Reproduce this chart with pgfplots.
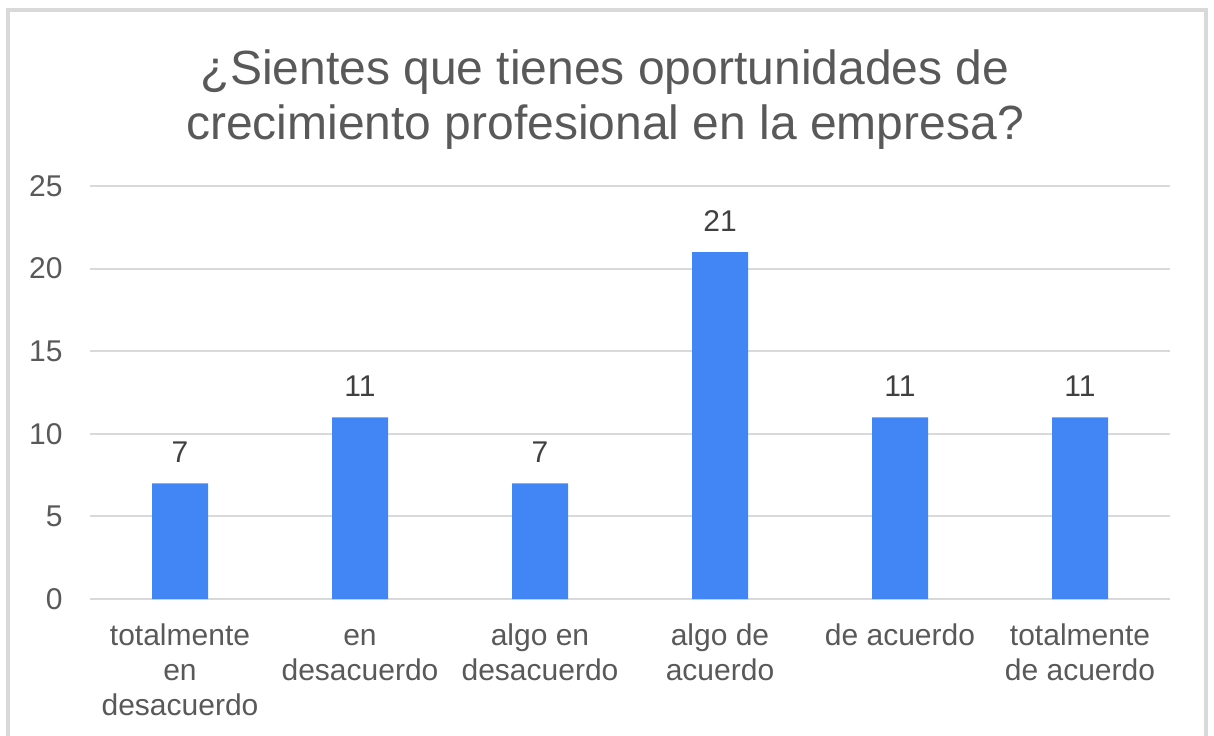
\documentclass[border=0pt]{standalone}
\usepackage{pgfplots}
\pgfplotsset{compat=1.18}
\usepackage{fontspec}
\setmainfont{Liberation Sans}
\definecolor{barblue}{HTML}{4285F4}
\definecolor{txtgray}{HTML}{595959}
\definecolor{lblgray}{HTML}{404040}
\definecolor{gridgray}{HTML}{D9D9D9}
\begin{document}
\begin{tikzpicture}
% 1 px of the reference = 0.5pt; axis box from px (90,599) to (1170,186)
\useasboundingbox (-45pt,-68pt) rectangle (562pt,299.5pt);
\draw[gridgray, line width=1.6pt] (-41pt,-70pt) -- (-41pt,294.5pt) -- (558pt,294.5pt) -- (558pt,-70pt);
\begin{axis}[
    at={(0,0)}, anchor=south west,
    scale only axis, width=540pt, height=206.5pt,
    xmin=-0.5, xmax=5.5, ymin=0, ymax=25,
    ytick={0,5,...,25},
    xtick={0,1,2,3,4,5},
    xticklabels={\strut totalmente\\en\\desacuerdo, \strut en\\desacuerdo, \strut algo en\\desacuerdo,
                 \strut algo de\\acuerdo, \strut de acuerdo, \strut totalmente\\de acuerdo},
    axis line style={draw=none},
    major tick length=0pt,
    ymajorgrids, grid style={gridgray, line width=1pt},
    /pgf/number format/assume math mode=true,
    yticklabel style={font=\fontsize{15}{18}\selectfont, text=txtgray,
                      anchor=east, inner sep=0pt, xshift=-13.5pt},
    xticklabel style={font=\fontsize{15}{17.5}\selectfont, text=txtgray,
                      anchor=north, inner sep=0pt, yshift=-10.75pt, align=center},
    ybar, bar width=28pt,
    nodes near coords,
    nodes near coords style={font=\fontsize{15}{18}\selectfont, text=lblgray,
                             anchor=south, inner sep=0pt, yshift=10pt},
]
\addplot[fill=barblue, draw=none] coordinates {
    (0,7) (1,11) (2,7) (3,21) (4,11) (5,11)
};
\end{axis}
\node[anchor=base, text=txtgray, font=\fontsize{24}{28}\selectfont, inner sep=0pt]
    at (257.5pt,257pt) {¿Sientes que tienes oportunidades de};
\node[anchor=base, text=txtgray, font=\fontsize{24}{28}\selectfont, inner sep=0pt]
    at (257.5pt,229.5pt) {crecimiento profesional en la empresa?};
\end{tikzpicture}
\end{document}
